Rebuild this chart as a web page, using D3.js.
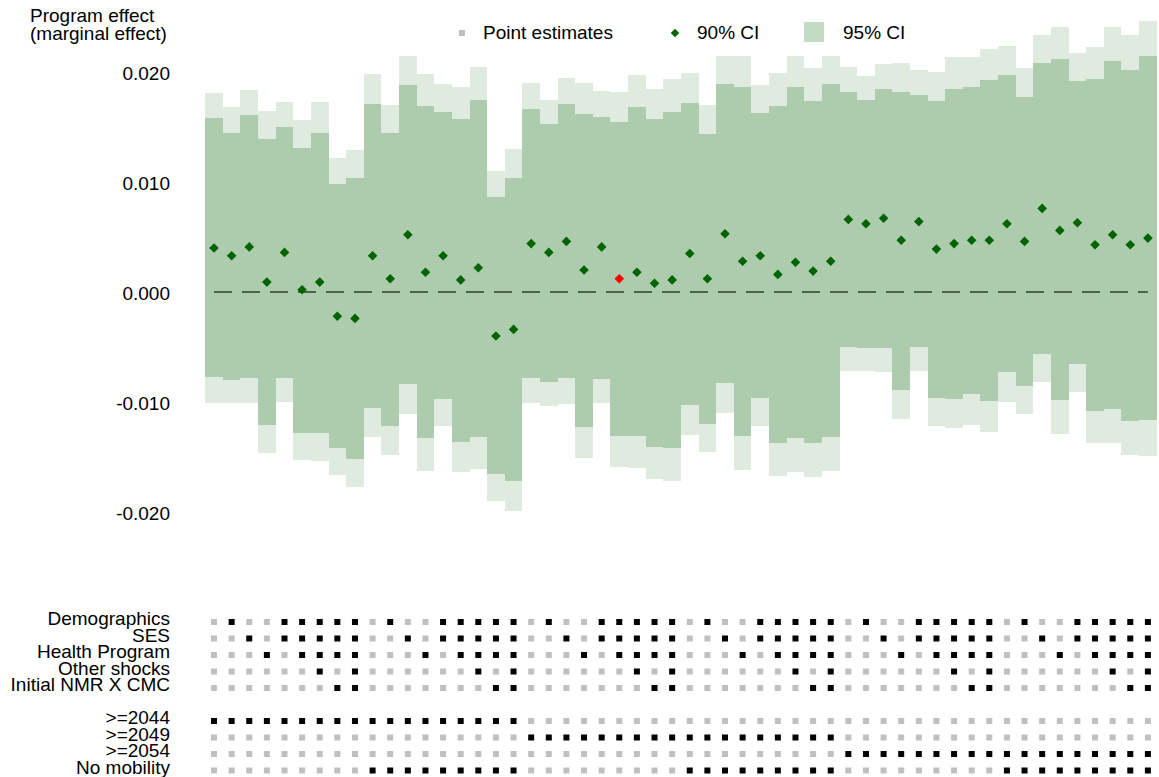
<!DOCTYPE html>
<html>
<head>
<meta charset="utf-8">
<script src="https://cdn.jsdelivr.net/npm/d3@7"></script>
<style>
  html, body { margin: 0; padding: 0; background: #fff; }
  svg { display: block; }
</style>
</head>
<body>
<div id="chart"></div>
<script>
// ── Data (54 specifications, left to right) ──
const pointEst = [
  0.0040, 0.0033, 0.0041, 0.0009, 0.0036, 0.0002, 0.0009, -0.0022, -0.0024,
  0.0033, 0.0012, 0.0052, 0.0018, 0.0033, 0.0011, 0.0022, -0.0040, -0.0034,
  0.0044, 0.0036, 0.0046, 0.0020, 0.0041, 0.0012, 0.0018, 0.0008, 0.0011,
  0.0035, 0.0012, 0.0053, 0.0028, 0.0033, 0.0016, 0.0027, 0.0019, 0.0028,
  0.0066, 0.0062, 0.0067, 0.0047, 0.0064, 0.0039, 0.0044, 0.0047, 0.0047,
  0.0062, 0.0046, 0.0076, 0.0056, 0.0063, 0.0043, 0.0052, 0.0043, 0.0049
];
const lo90 = [
  -0.0077, -0.0080, -0.0078, -0.0121, -0.0078, -0.0128, -0.0128, -0.0142, -0.0152,
  -0.0105, -0.0122, -0.0084, -0.0133, -0.0097, -0.0136, -0.0132, -0.0165, -0.0172,
  -0.0078, -0.0082, -0.0078, -0.0123, -0.0079, -0.0131, -0.0131, -0.0141, -0.0142,
  -0.0103, -0.0120, -0.0083, -0.0131, -0.0096, -0.0137, -0.0133, -0.0137, -0.0132,
  -0.0050, -0.0051, -0.0051, -0.0089, -0.0050, -0.0096, -0.0097, -0.0093, -0.0099,
  -0.0073, -0.0085, -0.0056, -0.0098, -0.0065, -0.0108, -0.0106, -0.0117, -0.0116
];
const hi90 = [
  0.0158, 0.0145, 0.0161, 0.0139, 0.0150, 0.0131, 0.0145, 0.0098, 0.0104,
  0.0171, 0.0145, 0.0188, 0.0169, 0.0164, 0.0157, 0.0175, 0.0086, 0.0104,
  0.0166, 0.0153, 0.0171, 0.0162, 0.0159, 0.0155, 0.0168, 0.0157, 0.0164,
  0.0172, 0.0144, 0.0189, 0.0186, 0.0163, 0.0169, 0.0186, 0.0174, 0.0189,
  0.0182, 0.0175, 0.0185, 0.0182, 0.0179, 0.0174, 0.0185, 0.0186, 0.0193,
  0.0197, 0.0177, 0.0208, 0.0212, 0.0192, 0.0194, 0.0210, 0.0202, 0.0215
];
const lo95 = [
  -0.0101, -0.0101, -0.0101, -0.0146, -0.0100, -0.0153, -0.0154, -0.0166, -0.0177,
  -0.0132, -0.0148, -0.0111, -0.0163, -0.0122, -0.0164, -0.0161, -0.0190, -0.0199,
  -0.0101, -0.0104, -0.0102, -0.0151, -0.0101, -0.0159, -0.0160, -0.0170, -0.0172,
  -0.0130, -0.0145, -0.0110, -0.0162, -0.0122, -0.0167, -0.0164, -0.0168, -0.0163,
  -0.0072, -0.0072, -0.0073, -0.0115, -0.0072, -0.0122, -0.0124, -0.0121, -0.0127,
  -0.0100, -0.0111, -0.0082, -0.0129, -0.0091, -0.0137, -0.0137, -0.0148, -0.0149
];
const hi95 = [
  0.0181, 0.0168, 0.0184, 0.0165, 0.0173, 0.0156, 0.0173, 0.0122, 0.0129,
  0.0198, 0.0170, 0.0215, 0.0198, 0.0189, 0.0186, 0.0205, 0.0110, 0.0130,
  0.0190, 0.0175, 0.0195, 0.0190, 0.0183, 0.0182, 0.0197, 0.0185, 0.0194,
  0.0199, 0.0170, 0.0215, 0.0215, 0.0188, 0.0199, 0.0215, 0.0204, 0.0215,
  0.0205, 0.0196, 0.0207, 0.0208, 0.0202, 0.0200, 0.0214, 0.0214, 0.0221,
  0.0224, 0.0204, 0.0234, 0.0241, 0.0217, 0.0223, 0.0241, 0.0234, 0.0246
];
// the specification highlighted in red
const highlightSpec = 23;

const yTicks = [-0.02, -0.01, 0, 0.01, 0.02];
const yTitle = ['Program effect', '(marginal effect)'];

// ── Specification indicator matrix (1 = included) ──
const controlLabels = ['Demographics', 'SES', 'Health Program', 'Other shocks', 'Initial NMR X CMC'];
const controlRows = [
  [0,1,0,0,1,1,1,1,1, 0,1,0,0,1,1,1,1,1, 0,1,0,0,1,1,1,1,1, 0,1,0,0,1,1,1,1,1, 0,1,0,0,1,1,1,1,1, 0,1,0,0,1,1,1,1,1],
  [0,0,1,0,1,1,1,1,1, 0,0,1,0,1,1,1,1,1, 0,0,1,0,1,1,1,1,1, 0,0,1,0,1,1,1,1,1, 0,0,1,0,1,1,1,1,1, 0,0,1,0,1,1,1,1,1],
  [0,0,0,1,0,1,1,1,1, 0,0,0,1,0,1,1,1,1, 0,0,0,1,0,1,1,1,1, 0,0,0,1,0,1,1,1,1, 0,0,0,1,0,1,1,1,1, 0,0,0,1,0,1,1,1,1],
  [0,0,0,0,0,0,1,0,1, 0,0,0,0,0,0,1,0,1, 0,0,0,0,0,0,1,0,1, 0,0,0,0,0,0,1,0,1, 0,0,0,0,0,0,1,0,1, 0,0,0,0,0,0,1,0,1],
  [0,0,0,0,0,0,0,1,1, 0,0,0,0,0,0,0,1,1, 0,0,0,0,0,0,0,1,1, 0,0,0,0,0,0,0,1,1, 0,0,0,0,0,0,0,1,1, 0,0,0,0,0,0,0,1,1]
];
const sampleLabels = ['>=2044', '>=2049', '>=2054', 'No mobility'];
const sampleRows = [
  [1,1,1,1,1,1,1,1,1, 1,1,1,1,1,1,1,1,1, 0,0,0,0,0,0,0,0,0, 0,0,0,0,0,0,0,0,0, 0,0,0,0,0,0,0,0,0, 0,0,0,0,0,0,0,0,0],
  [0,0,0,0,0,0,0,0,0, 0,0,0,0,0,0,0,0,0, 1,1,1,1,1,1,1,1,1, 1,1,1,1,1,1,1,1,1, 0,0,0,0,0,0,0,0,0, 0,0,0,0,0,0,0,0,0],
  [0,0,0,0,0,0,0,0,0, 0,0,0,0,0,0,0,0,0, 0,0,0,0,0,0,0,0,0, 0,0,0,0,0,0,0,0,0, 1,1,1,1,1,1,1,1,1, 1,1,1,1,1,1,1,1,1],
  [0,0,0,0,0,0,0,0,0, 1,1,1,1,1,1,1,1,1, 0,0,0,0,0,0,0,0,0, 1,1,1,1,1,1,1,1,1, 0,0,0,0,0,0,0,0,0, 1,1,1,1,1,1,1,1,1]
];

const legendItems = ['Point estimates', '90% CI', '95% CI'];

// ── Styling ──
const FONT = "'Liberation Sans', Arial, Helvetica, sans-serif";
const C95 = '#dfebdf';
const C90 = '#adcbad';
const CPT = '#006400';
const CRED = '#ff0000';
const CZERO = '#4f644f';
const CON = '#000000';
const COFF = '#c0c0c0';

const width = 1159, height = 777;
const n = pointEst.length;

const svg = d3.select('#chart').append('svg')
  .attr('width', width)
  .attr('height', height)
  .style('font-family', FONT);

const x = d3.scaleBand().domain(d3.range(n)).range([205.2, 1156.7]).padding(0);
const xc = i => x(i) + x.bandwidth() / 2;
const y = d3.scaleLinear().domain([-0.02, 0.02]).range([512, 72]);

// ── CI bars ──
svg.append('g').selectAll('rect')
  .data(d3.range(n))
  .join('rect')
  .attr('x', i => x(i))
  .attr('width', x.bandwidth())
  .attr('y', i => y(hi95[i]))
  .attr('height', i => y(lo95[i]) - y(hi95[i]))
  .attr('fill', C95)
  .attr('shape-rendering', 'crispEdges');

svg.append('g').selectAll('rect')
  .data(d3.range(n))
  .join('rect')
  .attr('x', i => x(i))
  .attr('width', x.bandwidth())
  .attr('y', i => y(hi90[i]))
  .attr('height', i => y(lo90[i]) - y(hi90[i]))
  .attr('fill', C90)
  .attr('shape-rendering', 'crispEdges');

// ── Zero line ──
svg.append('line')
  .attr('x1', xc(0)).attr('x2', xc(n - 1))
  .attr('y1', y(0)).attr('y2', y(0))
  .attr('stroke', CZERO)
  .attr('stroke-width', 2)
  .attr('stroke-dasharray', '18,10');

// ── Point estimates ──
const diamond = d3.symbol(d3.symbolSquare, 46);
svg.append('g').selectAll('path')
  .data(d3.range(n))
  .join('path')
  .attr('d', diamond)
  .attr('transform', i => `translate(${xc(i)},${y(pointEst[i])}) rotate(45)`)
  .attr('fill', i => i === highlightSpec ? CRED : CPT);

// ── Y axis ──
const fmt = d3.formatLocale({ decimal: '.', thousands: ',', grouping: [3], currency: ['', ''], minus: '-' }).format('.3f');
const yAxis = svg.append('g')
  .attr('transform', 'translate(170,0)')
  .call(d3.axisLeft(y).tickValues(yTicks).tickFormat(fmt).tickSize(0).tickPadding(0));
yAxis.select('.domain').remove();
yAxis.selectAll('text')
  .attr('font-family', FONT)
  .attr('font-size', '19px')
  .attr('fill', '#000')
  .attr('dy', '0.37em');

svg.append('g').selectAll('text')
  .data(yTitle)
  .join('text')
  .attr('x', 30)
  .attr('y', (d, i) => 22 + i * 17.5)
  .attr('font-size', '19px')
  .text(d => d);

// ── Legend ──
const legend = svg.append('g');
legend.append('rect').attr('x', 459).attr('y', 30).attr('width', 6).attr('height', 6).attr('fill', COFF);
legend.append('path').attr('d', d3.symbol(d3.symbolSquare, 36))
  .attr('transform', 'translate(675,33) rotate(45)').attr('fill', CPT);
legend.append('rect').attr('x', 804).attr('y', 22).attr('width', 20).attr('height', 20).attr('fill', '#c2dcc3');
legend.selectAll('text')
  .data(legendItems)
  .join('text')
  .attr('x', (d, i) => [483, 697, 843][i])
  .attr('y', 38.5)
  .attr('font-size', '19px')
  .text(d => d);

// ── Indicator matrix ──
const rowY = d3.scaleLinear().domain([0, 9]).range([622, 770.5]);
const matrix = controlRows.map((r, k) => ({ label: controlLabels[k], vals: r, pos: k }))
  .concat(sampleRows.map((r, k) => ({ label: sampleLabels[k], vals: r, pos: k + 6 })));

const mrow = svg.append('g').selectAll('g')
  .data(matrix)
  .join('g')
  .attr('transform', d => `translate(0,${rowY(d.pos)})`);

mrow.append('text')
  .attr('x', 170)
  .attr('y', 3)
  .attr('text-anchor', 'end')
  .attr('font-size', '19px')
  .text(d => d.label);

mrow.selectAll('rect')
  .data(d => d.vals)
  .join('rect')
  .attr('x', (v, i) => xc(i) - 3)
  .attr('y', -3)
  .attr('width', 6)
  .attr('height', 6)
  .attr('fill', v => v ? CON : COFF);
</script>
</body>
</html>
